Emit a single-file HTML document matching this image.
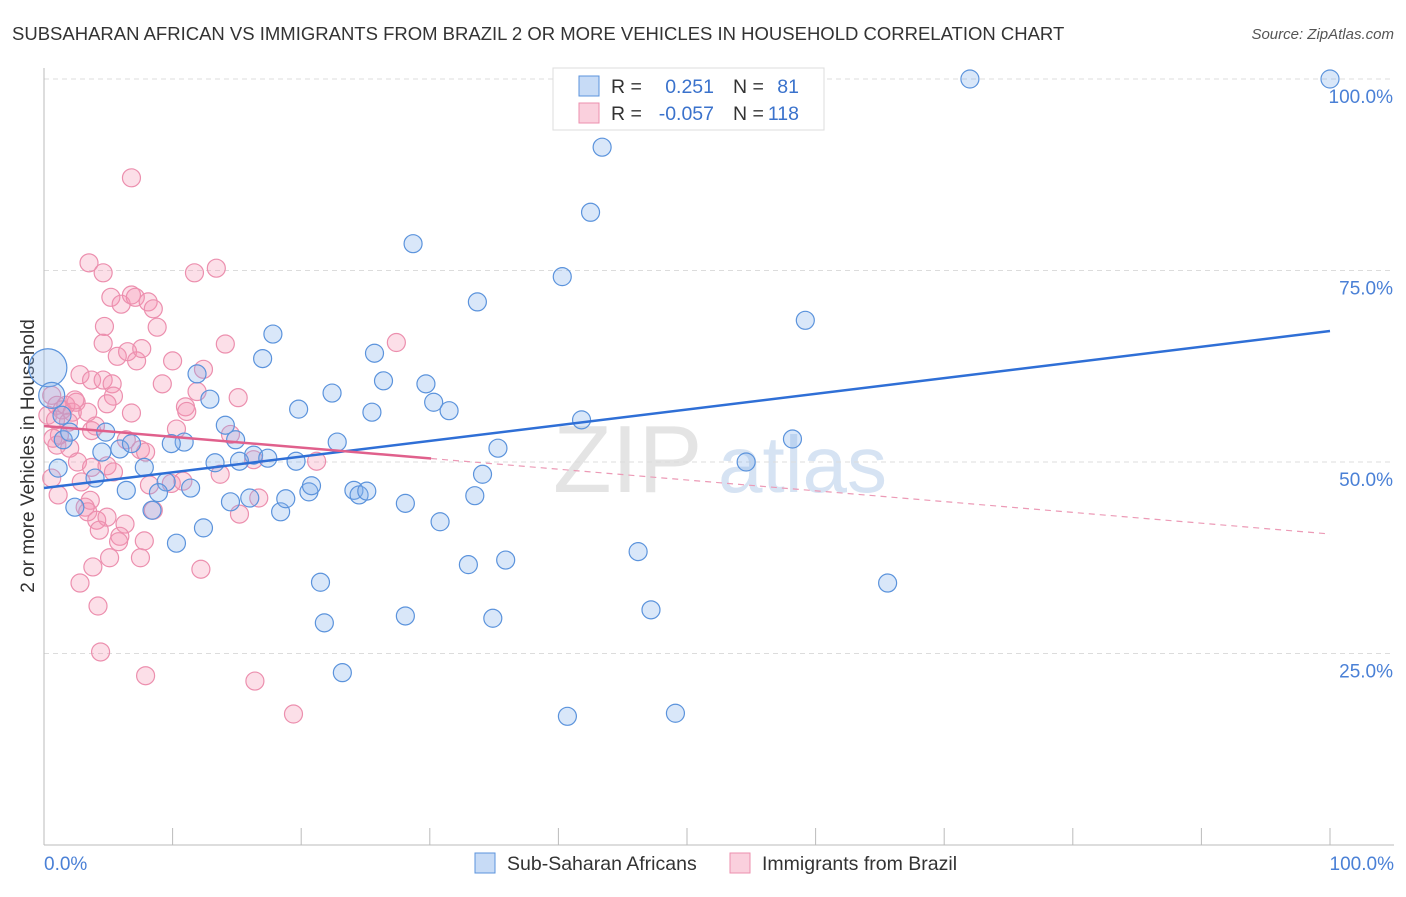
<!DOCTYPE html>
<html><head><meta charset="utf-8"><style>
body{margin:0;background:#fff;font-family:"Liberation Sans",sans-serif;}
svg text{font-family:"Liberation Sans",sans-serif;}
</style></head><body>
<svg id="c" width="1406" height="892"></svg>
<script>
const blueX=[100,72,43.4,42.5,28.7,40.3,33.7,59.2,17.8,17.0,25.7,26.4,22.4,29.7,30.3,31.5,25.5,19.8,12.9,11.9,41.8,58.2,54.6,35.3,22.8,14.9,14.1,10.9,9.9,16.3,17.4,15.2,13.3,19.6,34.1,7.8,9.5,11.4,8.9,6.4,3.97,1.1,1.5,4.5,5.9,6.8,4.8,2.0,0.3,0.6,1.4,2.4,8.4,10.3,12.4,14.5,16.0,18.4,18.8,20.6,20.8,24.1,24.5,25.1,28.1,30.8,33.5,33.0,35.9,46.2,47.2,65.6,21.5,21.8,28.1,34.9,23.2,40.7,49.1];
const blueY=[100,100,91.1,82.6,78.5,74.2,70.9,68.5,66.7,63.5,64.2,60.6,59.0,60.2,57.8,56.7,56.5,56.9,58.2,61.5,55.5,53.0,50.0,51.8,52.6,52.9,54.8,52.6,52.4,50.9,50.5,50.1,49.9,50.1,48.4,49.3,47.4,46.6,46.0,46.3,47.9,49.2,52.9,51.3,51.7,52.4,53.9,53.9,62.3,58.7,56.1,44.1,43.7,39.4,41.4,44.8,45.3,43.5,45.2,46.1,46.9,46.3,45.7,46.2,44.6,42.2,45.6,36.6,37.2,38.3,30.7,34.2,34.3,29.0,29.9,29.6,22.5,16.8,17.2];
const blueR=[9,9,9,9,9,9,9,9,9,9,9,9,9,9,9,9,9,9,9,9,9,9,9,9,9,9,9,9,9,9,9,9,9,9,9,9,9,9,9,9,9,9,9,9,9,9,9,9,19,13,9,9,9,9,9,9,9,9,9,9,9,9,9,9,9,9,9,9,9,9,9,9,9,9,9,9,9,9,9];
const pinkX=[6.8,3.5,4.6,11.7,13.4,5.2,6.0,6.8,7.1,8.1,8.5,8.8,4.7,4.6,5.7,6.5,7.2,7.6,14.1,27.4,10.0,12.4,9.2,2.8,3.7,4.6,5.3,11.9,5.4,4.9,2.5,11.0,11.1,6.8,10.3,14.5,4.0,3.7,6.4,7.5,1.0,2.0,2.6,3.7,4.9,5.4,7.9,16.3,21.2,13.7,8.2,9.9,10.8,2.9,0.6,1.1,3.6,3.2,3.4,16.7,15.2,8.5,4.1,4.9,6.3,4.3,5.9,5.8,7.8,5.1,7.5,3.8,12.2,2.8,4.2,4.4,7.9,16.4,19.4,0.6,1.0,1.4,1.7,2.2,0.3,0.9,1.9,1.2,0.7,2.4,3.4,15.1];
const pinkY=[87.1,76.0,74.7,74.7,75.3,71.5,70.6,71.8,71.5,70.9,70.0,67.6,67.7,65.5,63.8,64.4,63.2,64.8,65.4,65.6,63.2,62.1,60.2,61.4,60.7,60.7,60.2,59.2,58.6,57.6,57.8,57.2,56.6,56.4,54.3,53.6,54.7,54.1,52.9,51.6,52.2,51.8,50.0,49.3,49.5,48.7,51.3,50.3,50.1,48.4,47.0,47.2,47.5,47.4,47.9,45.7,45.0,44.1,43.5,45.3,43.2,43.7,42.4,42.8,41.9,41.1,40.3,39.6,39.7,37.5,37.5,36.3,36.0,34.2,31.2,25.2,22.1,21.4,17.1,58.7,57.4,56.8,57.4,56.5,56.1,55.5,55.2,53.5,53.1,58.1,56.5,58.4];
const trendIntercept=[46.6,54.7];
const trendEnd=[67.1,40.6];
const xTicks=["0.0%","100.0%"];
const yTicks=[25,50,75,100];
const yTickLabels=["25.0%","50.0%","75.0%","100.0%"];

const NS="http://www.w3.org/2000/svg";
const svg=document.getElementById('c');
const X0=44,X1=1330,YB=845,YT=79;
const sx=v=>X0+(X1-X0)*v/100;
const sy=v=>YB-(YB-YT)*v/100;
function mk(t,a,p){const e=document.createElementNS(NS,t);for(const k in a)e.setAttribute(k,a[k]);(p||svg).appendChild(e);return e;}

let t=mk('text',{x:12,y:40,'font-size':18.5,fill:'#333'});t.textContent="SUBSAHARAN AFRICAN VS IMMIGRANTS FROM BRAZIL 2 OR MORE VEHICLES IN HOUSEHOLD CORRELATION CHART";

t=mk('text',{x:1394,y:39,'font-size':15,fill:'#555','text-anchor':'end','font-style':'italic'});t.textContent="Source: ZipAtlas.com";


t=mk('text',{x:553,y:492,'font-size':96,fill:'#e4e4e4','font-family':'Liberation Serif'});t.textContent="ZIP";

t=mk('text',{x:718,y:492,'font-size':80,fill:'#d6e3f3'});t.textContent="atlas";


yTicks.forEach((v,i)=>{
  const g=mk('line',{x1:X0,x2:1394,y1:sy(v),y2:sy(v),stroke:'#dcdcdc','stroke-dasharray':'5,4'});
  
  const l=mk('text',{x:1393,y:sy(v)+24,'font-size':19,fill:'#4a80d6','text-anchor':'end'});l.textContent=yTickLabels[i];
  
});
let a=mk('line',{x1:X0,x2:X0,y1:68,y2:YB,stroke:'#bbb'});
a=mk('line',{x1:X0,x2:1394,y1:YB,y2:YB,stroke:'#bbb'});
for(let i=0;i<=10;i++){const k=mk('line',{x1:sx(i*10),x2:sx(i*10),y1:828,y2:YB,stroke:'#bbb'});}
t=mk('text',{x:44,y:870,'font-size':19,fill:'#4a80d6'});t.textContent=xTicks[0];
t=mk('text',{x:1394,y:870,'font-size':19,fill:'#4a80d6','text-anchor':'end'});t.textContent=xTicks[1];
t=mk('text',{x:0,y:0,'font-size':19,fill:'#333','text-anchor':'middle',transform:'translate(34,456) rotate(-90)'});t.textContent="2 or more Vehicles in Household";


pinkX.forEach((v,i)=>{const c=mk('circle',{cx:sx(v),cy:sy(pinkY[i]),r:9,fill:'rgba(244,150,180,0.3)',stroke:'#ec8fae','stroke-width':1.2});
});
blueX.forEach((v,i)=>{const c=mk('circle',{cx:sx(v),cy:sy(blueY[i]),r:blueR[i],fill:'rgba(130,175,235,0.3)',stroke:'#5b93dc','stroke-width':1.2});
});

const pv=x=>trendIntercept[1]+(trendEnd[1]-trendIntercept[1])*x/100;
let ln=mk('line',{x1:sx(0),y1:sy(trendIntercept[0]),x2:sx(100),y2:sy(trendEnd[0]),stroke:'#2f6fd6','stroke-width':2.5});

ln=mk('line',{x1:sx(0),y1:sy(pv(0)),x2:sx(30.1),y2:sy(pv(30.1)),stroke:'#e0608c','stroke-width':2.5});

ln=mk('line',{x1:sx(30.1),y1:sy(pv(30.1)),x2:sx(100),y2:sy(pv(100)),stroke:'#ec9ab6','stroke-width':1.2,'stroke-dasharray':'6,5'});


const lg=mk('g',{});
mk('rect',{x:553,y:68,width:271,height:62,fill:'#fff',stroke:'#ddd'},lg);
const rows=[["0.251","81",'rgba(130,175,235,0.45)','#5b93dc'],["-0.057","118",'rgba(244,150,180,0.45)','#ec8fae']];
rows.forEach((r,i)=>{const y=86+i*27;
 mk('rect',{x:579,y:y-10,width:20,height:20,fill:r[2],stroke:r[3]},lg);
 let q=mk('text',{x:611,y:y+7,'font-size':19.5,fill:'#333'},lg);q.textContent="R =";
 q=mk('text',{x:714,y:y+7,'font-size':19.5,fill:'#3a72cc','text-anchor':'end'},lg);q.textContent=r[0];
 q=mk('text',{x:733,y:y+7,'font-size':19.5,fill:'#333'},lg);q.textContent="N =";
 q=mk('text',{x:799,y:y+7,'font-size':19.5,fill:'#3a72cc','text-anchor':'end'},lg);q.textContent=r[1];
});
const bl=[[475,"Sub-Saharan Africans",'rgba(130,175,235,0.45)','#5b93dc'],[730,"Immigrants from Brazil",'rgba(244,150,180,0.45)','#ec8fae']];
bl.forEach(b=>{const g=mk('g',{});
 mk('rect',{x:b[0],y:853,width:20,height:20,fill:b[2],stroke:b[3]},g);
 const q=mk('text',{x:b[0]+32,y:870,'font-size':19.5,fill:'#333'},g);q.textContent=b[1];});
</script>
</body></html>
